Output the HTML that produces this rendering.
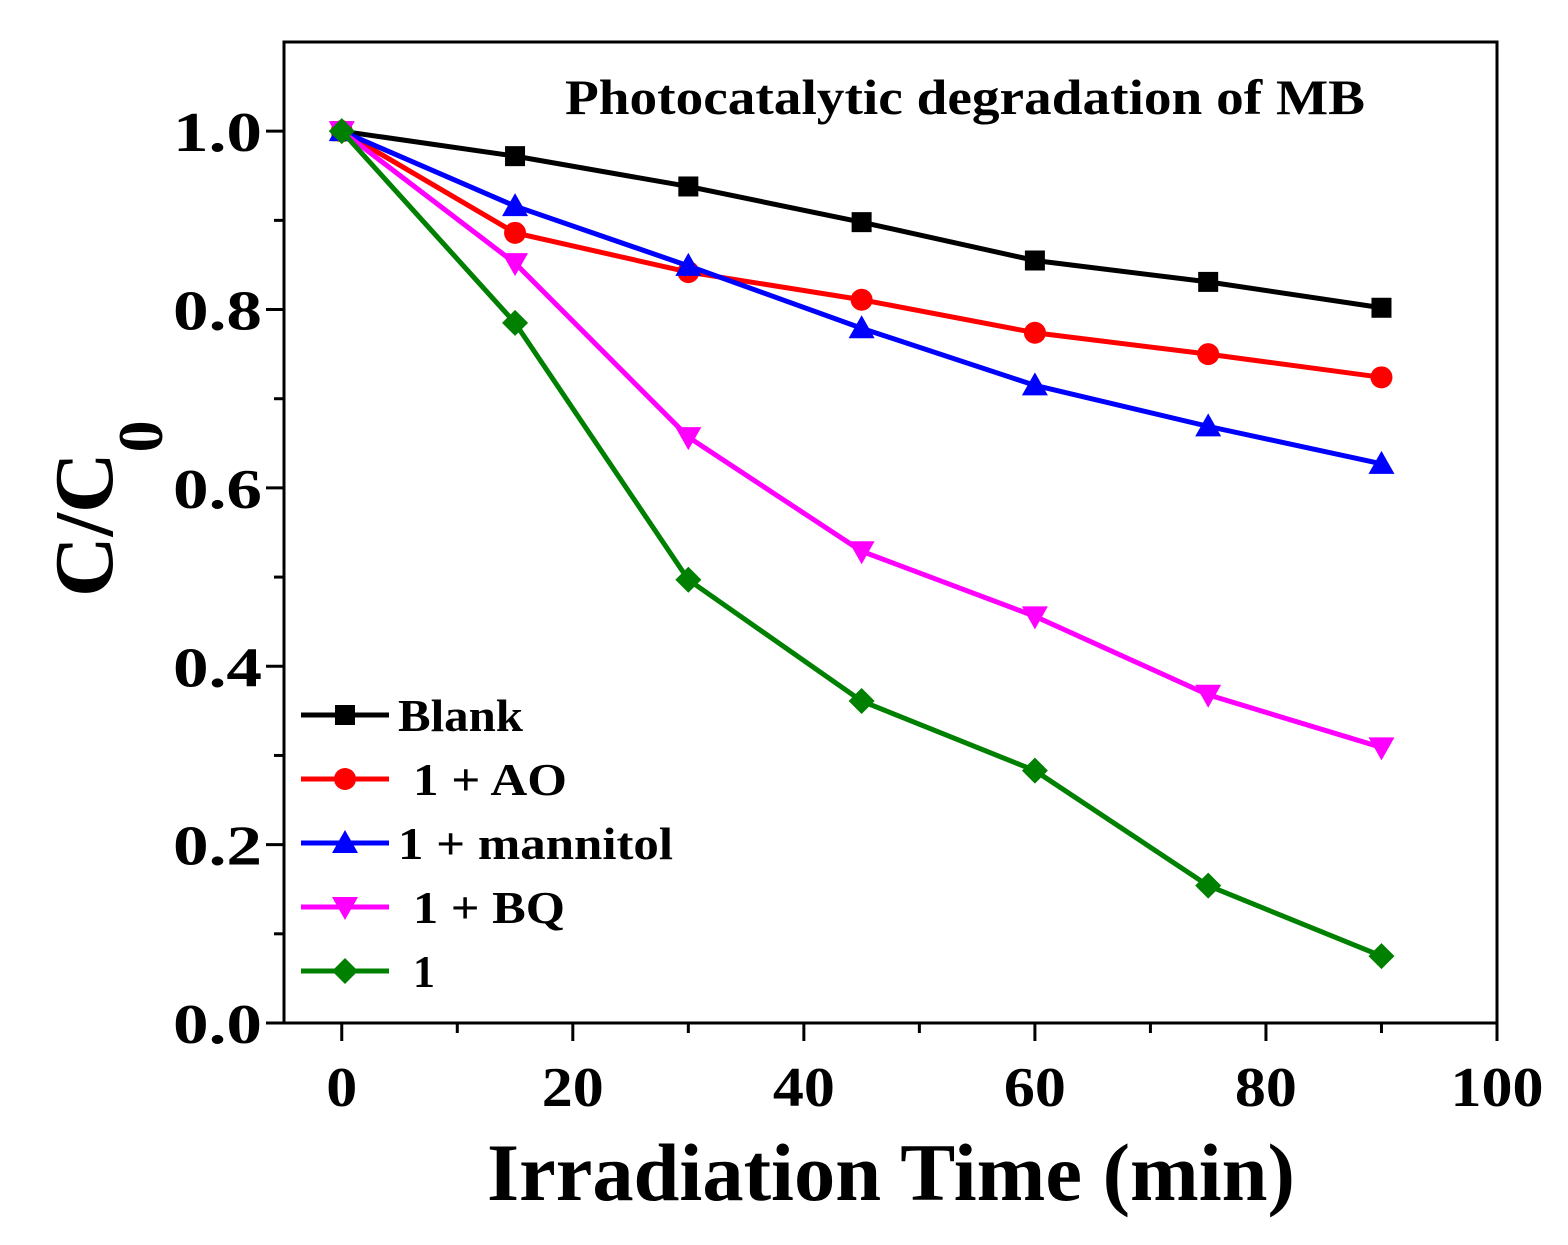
<!DOCTYPE html>
<html><head><meta charset="utf-8"><style>
body{margin:0;background:#fff}
svg text{font-family:"Liberation Serif",serif;font-weight:bold}
</style></head><body>
<svg id="chart" width="1568" height="1240" xmlns="http://www.w3.org/2000/svg">
<rect width="1568" height="1240" fill="#fff"/>
<g id="axes"></g><g id="series"></g><g id="legend"></g>
<text x="565" y="114" font-size="50" textLength="800" lengthAdjust="spacingAndGlyphs">Photocatalytic degradation of MB</text>
<text x="487" y="1200" font-size="82" textLength="808" lengthAdjust="spacingAndGlyphs">Irradiation Time (min)</text>
<text transform="translate(112,597) rotate(-90)" font-size="84">C/C<tspan font-size="64" dy="50">0</tspan></text>
</svg>
<script>
const times=[0,15,30,45,60,75,90];
const seriesNames=["Blank","1 + AO","1 + mannitol","1 + BQ","1"];
const blank=[1,0.972,0.938,0.898,0.855,0.831,0.802];
const ao=[1,0.886,0.842,0.811,0.774,0.750,0.724];
const mannitol=[1,0.916,0.849,0.779,0.715,0.669,0.627];
const bq=[1,0.852,0.657,0.529,0.456,0.368,0.309];
const cat1=[1,0.785,0.497,0.361,0.283,0.154,0.075];
const xTicks=[0,20,40,60,80,100];
const yTicks=["0.0","0.2","0.4","0.6","0.8","1.0"];
const NS="http://www.w3.org/2000/svg";
const L=284,R=1497,T=42,B=1023;
const X=v=>L+(v+5)/105*(R-L);
const Y=v=>B-v/1.1*(B-T);
function mk(tag,attrs,parent){const e=document.createElementNS(NS,tag);for(const k in attrs)e.setAttribute(k,attrs[k]);parent.appendChild(e);return e;}
const ax=document.getElementById('axes');
const fr=mk('rect',{x:L,y:T,width:R-L,height:B-T,fill:'none',stroke:'#000','stroke-width':3},ax);


for(let v=0;v<=100;v+=10){const maj=v%20===0;const t=mk('line',{x1:X(v),x2:X(v),y1:B,y2:B+(maj?18:10),stroke:'#000','stroke-width':3},ax);

}
xTicks.forEach(v=>{const s=String(v);const t=mk('text',{x:X(v),y:B+83,'font-size':56,'text-anchor':'middle',textLength:s.length*31,lengthAdjust:'spacingAndGlyphs'},ax);t.textContent=s;

});
for(let i=0;i<=10;i++){const v=i/10;const maj=i%2===0;const t=mk('line',{x1:L-(maj?18:10),x2:L,y1:Y(v),y2:Y(v),stroke:'#000','stroke-width':3},ax);

}
yTicks.forEach(s=>{const t=mk('text',{x:173,y:Y(parseFloat(s))+20,'font-size':56,textLength:89,lengthAdjust:'spacingAndGlyphs'},ax);t.textContent=s;

});
const colors=["#000","#ff0000","#0000ff","#ff00ff","#008000"];
const shapes=["square","circle","up","down","diamond"];
const all=[blank,ao,mannitol,bq,cat1];
function marker(g,shape,x,y,c){let e;
if(shape==='square')e=mk('rect',{x:x-10,y:y-10,width:20,height:20,fill:c},g);
else if(shape==='circle')e=mk('circle',{cx:x,cy:y,r:11,fill:c},g);
else if(shape==='up')e=mk('polygon',{points:`${x},${y-13} ${x+13},${y+10} ${x-13},${y+10}`,fill:c},g);
else if(shape==='down')e=mk('polygon',{points:`${x},${y+13} ${x+13},${y-10} ${x-13},${y-10}`,fill:c},g);
else e=mk('polygon',{points:`${x},${y-13} ${x+13},${y} ${x},${y+13} ${x-13},${y}`,fill:c},g);
return e;}
const sg=document.getElementById('series');
all.forEach((d,i)=>{const g=mk('g',{},sg);


const pl=mk('polyline',{points:d.map((v,j)=>X(times[j])+','+Y(v)).join(' '),fill:'none',stroke:colors[i],'stroke-width':5},g);


d.forEach((v,j)=>{const m=marker(g,shapes[i],X(times[j]),Y(v),colors[i]);

});});
const lg=document.getElementById('legend');
const legX=[398,413,398,413,413];
const legW=[125,154,275,152,22];
seriesNames.forEach((n,i)=>{const y=715+i*64;const g=mk('g',{},lg);


mk('line',{x1:301,x2:389,y1:y,y2:y,stroke:colors[i],'stroke-width':5},g);
marker(g,shapes[i],345,y,colors[i]);
const t=mk('text',{x:legX[i],y:y+16,'font-size':46,textLength:legW[i],lengthAdjust:'spacingAndGlyphs'},g);t.textContent=n;});
</script>
</body></html>
